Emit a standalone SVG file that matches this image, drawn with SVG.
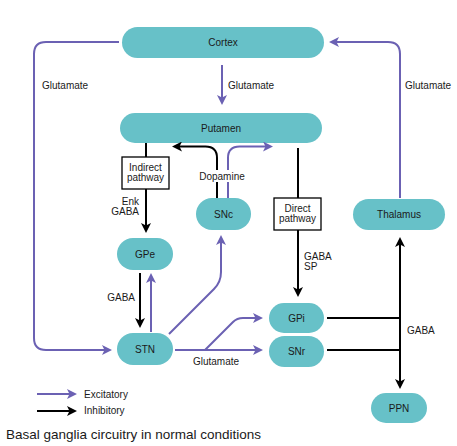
<svg xmlns="http://www.w3.org/2000/svg" width="457" height="446" viewBox="0 0 457 446">
<style>
.node{fill:#67c1c8}
.t{font-family:"Liberation Sans",Arial,sans-serif;font-size:10px;fill:#1a1a1a}
.m{text-anchor:middle}
.e{text-anchor:end}
.ex{fill:none;stroke:#6b61b3;stroke-width:2}
.in{fill:none;stroke:#000;stroke-width:2}
.box{fill:#fff;stroke:#000;stroke-width:1.3}
</style>
<defs>
<marker id="ap" markerUnits="userSpaceOnUse" markerWidth="10" markerHeight="10" viewBox="0 0 10 10" refX="6" refY="5" orient="auto"><path d="M0,0 L10,5 L0,10 L2.5,5 z" fill="#6b61b3"/></marker>
<marker id="ak" markerUnits="userSpaceOnUse" markerWidth="10" markerHeight="10" viewBox="0 0 10 10" refX="6" refY="5" orient="auto"><path d="M0,0 L10,5 L0,10 L2.5,5 z" fill="#000"/></marker>
</defs>
<rect width="457" height="446" fill="#fff"/>

<g id="cortex"><rect class="node" x="122" y="27" width="202" height="31" rx="15.5"/><text class="t m" x="223" y="46">Cortex</text></g>
<g id="putamen"><rect class="node" x="120" y="113" width="202" height="30" rx="15"/><text class="t m" x="221" y="131.5">Putamen</text></g>
<g id="snc"><rect class="node" x="196" y="198" width="55" height="32" rx="16"/><text class="t m" x="223.5" y="217.5">SNc</text></g>
<g id="thalamus"><rect class="node" x="353" y="199" width="92" height="31" rx="15.5"/><text class="t m" x="399" y="218">Thalamus</text></g>
<g id="gpe"><rect class="node" x="117" y="238" width="56" height="32" rx="16"/><text class="t m" x="145" y="257.5">GPe</text></g>
<g id="stn"><rect class="node" x="117" y="333" width="56" height="32" rx="16"/><text class="t m" x="145" y="352.5">STN</text></g>
<g id="gpi"><rect class="node" x="269" y="303" width="55" height="30" rx="15"/><text class="t m" x="296.5" y="321.5">GPi</text></g>
<g id="snr"><rect class="node" x="269" y="336" width="55" height="31" rx="15.5"/><text class="t m" x="296.5" y="355">SNr</text></g>
<g id="ppn"><rect class="node" x="371" y="393" width="56" height="30" rx="15"/><text class="t m" x="399" y="411.5">PPN</text></g>

<g id="connectors">
<path class="ex" d="M222,65 V101" marker-end="url(#ap)"/>
<path class="ex" d="M119,42 H46 Q34,42 34,54 V338 Q34,350 46,350 H108" marker-end="url(#ap)"/>
<path class="ex" d="M400,198 V54 Q400,42 388,42 H333" marker-end="url(#ap)"/>
<path class="in" d="M217,198 V158 Q217,146.5 205.5,146.5 H176" marker-end="url(#ak)"/>
<path class="ex" d="M228,198 V158 Q228,146.5 239.5,146.5 H269" marker-end="url(#ap)"/>
<path class="in" d="M146,143 V157"/>
<path class="in" d="M146,189 V229" marker-end="url(#ak)"/>
<path class="in" d="M298,148 V198"/>
<path class="in" d="M298,230 V293" marker-end="url(#ak)"/>
<path class="in" d="M400,334 V241" marker-end="url(#ak)"/>
<path class="in" d="M400,334 V385" marker-end="url(#ak)"/>
<path class="in" d="M327,318 H401"/>
<path class="in" d="M327,350 H401"/>
<path class="in" d="M140,273 V324" marker-end="url(#ak)"/>
<path class="ex" d="M151,332 V277" marker-end="url(#ap)"/>
<path class="ex" d="M169,334 L214,289 Q221,282 221,272 V239" marker-end="url(#ap)"/>
<path class="ex" d="M175,350 H259" marker-end="url(#ap)"/>
<path class="ex" d="M205,350 L233,322 Q237,318 243,318 H259" marker-end="url(#ap)"/>
<path class="ex" d="M37,394 H73" marker-end="url(#ap)"/>
<path class="in" d="M37,411 H73" marker-end="url(#ak)"/>
</g>

<g id="indirect"><rect class="box" x="122" y="157" width="47" height="32"/><text class="t m" x="145.5" y="171">Indirect</text><text class="t m" x="145.5" y="181">pathway</text></g>
<g id="direct"><rect class="box" x="274" y="198" width="47" height="32"/><text class="t m" x="297.5" y="211.5">Direct</text><text class="t m" x="297.5" y="221.5">pathway</text></g>

<g id="labels">
<text class="t" x="42" y="88.5">Glutamate</text>
<text class="t" x="228" y="88.5">Glutamate</text>
<text class="t" x="405" y="88.5">Glutamate</text>
<rect x="198" y="170" width="48" height="12" fill="#fff"/>
<text class="t m" x="222" y="179.5">Dopamine</text>
<text class="t e" x="139" y="205">Enk</text>
<text class="t e" x="139" y="215">GABA</text>
<text class="t" x="304" y="259.5">GABA</text>
<text class="t" x="304" y="269.5">SP</text>
<text class="t e" x="135" y="300.5">GABA</text>
<text class="t" x="407" y="333.5">GABA</text>
<text class="t m" x="216" y="364.5">Glutamate</text>
<text class="t" x="84" y="397.5">Excitatory</text>
<text class="t" x="84" y="414">Inhibitory</text>
<text class="t" x="6" y="439" style="font-size:13.5px">Basal ganglia circuitry in normal conditions</text>
</g>
</svg>
